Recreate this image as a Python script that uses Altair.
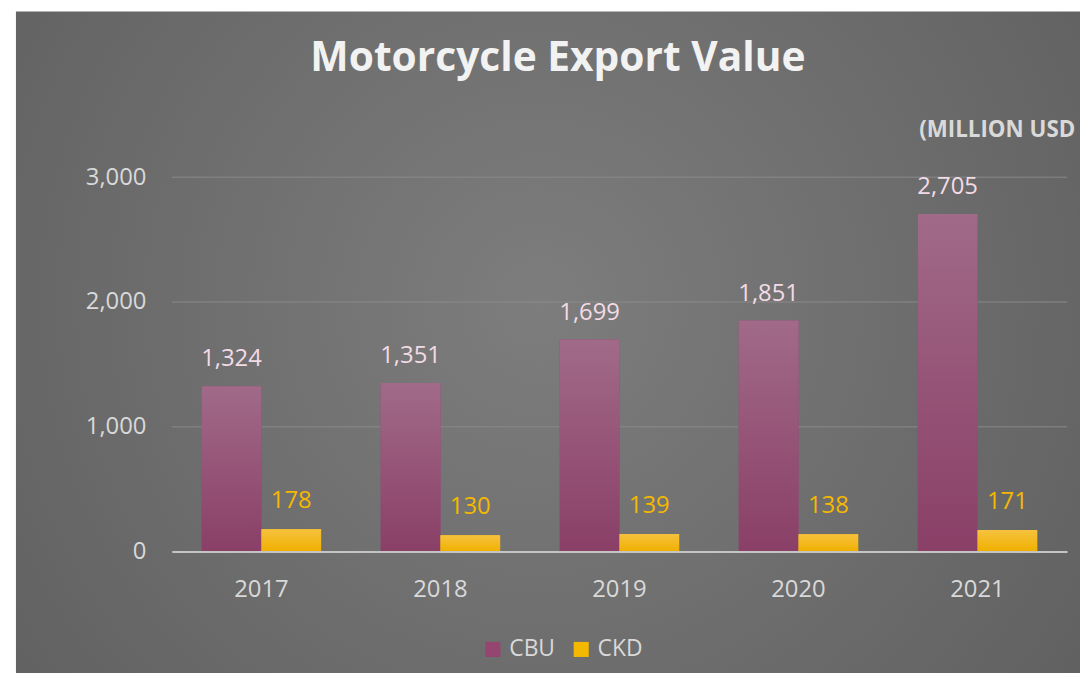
import altair as alt
import pandas as pd

years = ["2017", "2018", "2019", "2020", "2021"]
cbu = [1324, 1351, 1699, 1851, 2705]
ckd = [178, 130, 139, 138, 171]
series = ["CBU", "CKD"]
y_ticks = [0, 1000, 2000, 3000]
grid_vals = [1000, 2000, 3000]

rows = []
for i, yr in enumerate(years):
    rows.append({"year": yr, "series": "CBU", "value": cbu[i]})
    rows.append({"year": yr, "series": "CKD", "value": ckd[i]})
df = pd.DataFrame(rows)

FONT = "Open Sans"
W, H = 902, 377

yscale = alt.Scale(domain=[0, 3000], nice=False)
xaxis = alt.Axis(title=None, labelAngle=0, labelFontSize=24, labelColor="#d9d9d9",
                 labelFont=FONT, labelPadding=26, ticks=False, domain=True,
                 domainColor="#c4c4c4", domainWidth=2, grid=False, zindex=1)
yaxis = alt.Axis(title=None, values=y_ticks, labelExpr="format(datum.value, ',')",
                 labelFontSize=24, labelColor="#d9d9d9", labelFont=FONT, labelPadding=26,
                 ticks=False, domain=False, grid=False, zindex=1)

x_enc = alt.X("year:N", sort=years,
              scale=alt.Scale(paddingInner=0.333, paddingOuter=0.167), axis=xaxis)
y_enc = alt.Y("value:Q", scale=yscale, axis=yaxis)
xo = alt.XOffset("series:N", sort=series, scale=alt.Scale(paddingInner=0, paddingOuter=0))

bg = alt.Chart(pd.DataFrame({"a": [0]})).mark_rect(
    color=alt.RadialGradient(gradient="radial", x1=0.48, y1=0.45, x2=0.48, y2=0.45, r1=0, r2=0.75,
                             stops=[alt.GradientStop(offset=0, color="#7d7d7d"),
                                    alt.GradientStop(offset=1, color="#5a5a5a")])
).encode(x=alt.value(-157), x2=alt.value(940), y=alt.value(-167), y2=alt.value(530))

grid = alt.Chart(pd.DataFrame({"value": grid_vals})).mark_rule(
    color="#8c8c8c", strokeWidth=1.5, opacity=0.6
).encode(y=y_enc, x=alt.value(0), x2=alt.value(W))

base = alt.Chart(df)

bars = base.mark_bar().encode(
    x=x_enc, y=y_enc, xOffset=xo,
    color=alt.Color("series:N", sort=series,
                    scale=alt.Scale(domain=series, range=["#944670", "#f5b800"]),
                    legend=alt.Legend(title=None, orient="none", direction="horizontal",
                                      legendX=312, legendY=464, labelFontSize=23,
                                      labelColor="#d9d9d9", labelFont=FONT, symbolType="square",
                                      symbolSize=230, symbolStrokeWidth=0, columnPadding=14,
                                      labelOffset=5))
)

cbu_grad = base.transform_filter(alt.datum.series == "CBU").mark_bar(
    color=alt.LinearGradient(gradient="linear", x1=0, y1=0, x2=0, y2=1,
                             stops=[alt.GradientStop(offset=0, color="#a16a88"),
                                    alt.GradientStop(offset=1, color="#8a3f67")])
).encode(x=x_enc, y=y_enc, xOffset=xo)

ckd_grad = base.transform_filter(alt.datum.series == "CKD").mark_bar(
    color=alt.LinearGradient(gradient="linear", x1=0, y1=0, x2=0, y2=1,
                             stops=[alt.GradientStop(offset=0, color="#f6c23e"),
                                    alt.GradientStop(offset=1, color="#f0b000")])
).encode(x=x_enc, y=y_enc, xOffset=xo)

cbu_lbl = base.transform_filter(alt.datum.series == "CBU").mark_text(
    dy=-27, fontSize=24, font=FONT, color="#f3dbe6", baseline="middle"
).encode(x=x_enc, y=y_enc, xOffset=xo, text=alt.Text("value:Q", format=","))

ckd_lbl = base.transform_filter(alt.datum.series == "CKD").mark_text(
    dy=-28, fontSize=24, font=FONT, color="#f5b800", baseline="middle"
).encode(x=x_enc, y=y_enc, xOffset=xo, text=alt.Text("value:Q", format=","))

title_df = pd.DataFrame({"t": ["Motorcycle Export Value"]})
title = alt.Chart(title_df).mark_text(
    fontSize=41, fontWeight="bold", font=FONT, color="#f2f2f2", align="center", baseline="middle"
).encode(x=alt.value(389), y=alt.value(-119), text="t:N")

unit_df = pd.DataFrame({"t": ["(MILLION USD"]})
unit = alt.Chart(unit_df).mark_text(
    fontSize=22.5, fontWeight="bold", font=FONT, color="#d9d9d9", align="left", baseline="middle"
).encode(x=alt.value(753), y=alt.value(-48), text="t:N")

chart = alt.layer(bg, grid, bars, cbu_grad, ckd_grad, cbu_lbl, ckd_lbl, title, unit).properties(
    width=W, height=H,
    autosize=alt.AutoSizeParams(type="none"),
    padding={"left": 165, "top": 168, "right": 13, "bottom": 120},
    background="white"
).configure_view(stroke=None)

chart.save("out.html", embed_options={"renderer": "svg", "actions": False})
